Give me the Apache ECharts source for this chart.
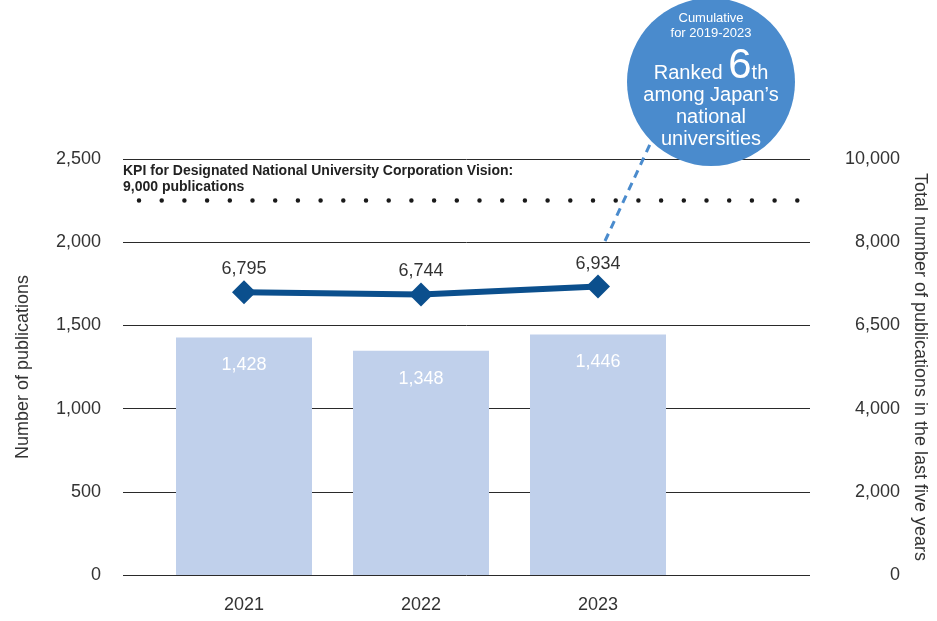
<!DOCTYPE html>
<html>
<head>
<meta charset="utf-8">
<script src="https://cdn.jsdelivr.net/npm/echarts@6/dist/echarts.min.js"></script>
<style>
html,body{margin:0;padding:0;background:#fff;}
#c{width:937px;height:621px;}
</style>
</head>
<body>
<div id="c"></div>
<script>
const categories = ['2021', '2022', '2023'];
const publications = [1428, 1348, 1446];
const cumulative = [6795, 6744, 6934];
const kpiTarget = 9000;
const leftTicks = ['0', '500', '1,000', '1,500', '2,000', '2,500'];
const rightTicks = ['0', '2,000', '4,000', '6,500', '8,000', '10,000'];

const FONT = '"Liberation Sans", Arial, sans-serif';
const TXT = '#333333';
const fmt = v => v.toLocaleString('en-US');

const chart = echarts.init(document.getElementById('c'), null, {renderer: 'canvas'});

const option = {
  animation: false,
  textStyle: {fontFamily: FONT},
  grid: [
    {left: 123, right: 127, top: 159, bottom: 46, containLabel: false, outerBoundsMode: 'none'},
    {left: 155.5, right: 250.5, top: 159, bottom: 46, containLabel: false, outerBoundsMode: 'none'}
  ],
  xAxis: [
    {gridIndex: 0, type: 'value', min: 0, max: 1, show: false},
    {
      gridIndex: 1, type: 'category', data: categories,
      axisLine: {show: false}, axisTick: {show: false},
      axisLabel: {color: TXT, fontSize: 18, margin: 21, fontFamily: FONT}
    }
  ],
  yAxis: [
    {
      gridIndex: 0, type: 'value', min: 0, max: 2500, interval: 500, position: 'left',
      name: 'Number of publications', nameLocation: 'middle', nameGap: 91, nameRotate: 90,
      nameTextStyle: {color: TXT, fontSize: 18, fontFamily: FONT},
      axisLine: {show: false}, axisTick: {show: false},
      axisLabel: {color: TXT, fontSize: 18, margin: 22, fontFamily: FONT,
        formatter: (v) => leftTicks[Math.round(v / 500)]},
      splitLine: {show: true, lineStyle: {color: '#2a2a2a', width: 1}}
    },
    {
      gridIndex: 0, type: 'value', min: 0, max: 10000, interval: 2000, position: 'right',
      name: 'Total number of publications in the last five years', nameLocation: 'middle',
      nameGap: 101, nameRotate: -90,
      nameTextStyle: {color: TXT, fontSize: 18, fontFamily: FONT},
      axisLine: {show: false}, axisTick: {show: false},
      axisLabel: {color: TXT, fontSize: 18, margin: 90, align: 'right', fontFamily: FONT,
        formatter: (v) => rightTicks[Math.round(v / 2000)]},
      splitLine: {show: false}
    },
    {gridIndex: 1, type: 'value', min: 0, max: 2500, show: false, splitLine: {show: false}},
    {gridIndex: 1, type: 'value', min: 0, max: 10000, show: false, splitLine: {show: false}}
  ],
  series: [
    {
      type: 'line', xAxisIndex: 0, yAxisIndex: 1, data: [], silent: true,
      markLine: {
        silent: true, symbol: ['none', 'none'], label: {show: false},
        lineStyle: {color: '#1a1a1a', width: 4.5, type: [0, 22.7], cap: 'round', dashOffset: -16},
        data: [{yAxis: kpiTarget}]
      }
    },
    {
      type: 'bar', xAxisIndex: 1, yAxisIndex: 2, data: publications, barWidth: 136,
      itemStyle: {color: '#c0d0eb'},
      label: {show: true, position: 'insideTop', distance: 19, color: '#ffffff', fontSize: 18,
        fontFamily: FONT, formatter: p => fmt(p.value)}
    },
    {
      type: 'line', xAxisIndex: 1, yAxisIndex: 3, data: cumulative,
      symbol: 'diamond', symbolSize: 24,
      lineStyle: {color: '#0b4f8d', width: 6},
      itemStyle: {color: '#0b4f8d'},
      label: {show: true, position: 'top', distance: 2, color: TXT, fontSize: 18,
        fontFamily: FONT, formatter: p => fmt(p.value)},
      z: 5
    }
  ],
  graphic: [
    {
      type: 'text', left: 123, top: 163, silent: true,
      style: {text: 'KPI for Designated National University Corporation Vision:\n9,000 publications',
        fill: '#222', font: 'bold 14px ' + FONT, lineHeight: 16}
    },
    {
      type: 'line', silent: true, z: 1,
      shape: {x1: 605, y1: 241, x2: 652, y2: 140},
      style: {stroke: '#4a8bcd', lineWidth: 3, lineDash: [8, 6]}
    },
    {
      type: 'circle', silent: true, z: 2,
      shape: {cx: 711, cy: 82, r: 84},
      style: {fill: '#4a8bcd'}
    },
    {type: 'text', silent: true, z: 3, x: 711, y: 18,
      style: {text: 'Cumulative', fill: '#fff', font: '13px ' + FONT, textAlign: 'center', textVerticalAlign: 'middle'}},
    {type: 'text', silent: true, z: 3, x: 711, y: 33,
      style: {text: 'for 2019-2023', fill: '#fff', font: '13px ' + FONT, textAlign: 'center', textVerticalAlign: 'middle'}},
    {type: 'text', silent: true, z: 3, x: 711, y: 66,
      style: {text: '{a|Ranked }{b|6}{a|th}', fill: '#fff', align: 'center', verticalAlign: 'middle',
        rich: {a: {fontSize: 20, fontFamily: FONT, fill: '#fff', color: '#fff', verticalAlign: 'bottom', padding: [0, 0, 4, 0]},
               b: {fontSize: 42, fontFamily: FONT, fill: '#fff', color: '#fff', verticalAlign: 'bottom'}}}},
    {type: 'text', silent: true, z: 3, x: 711, y: 95,
      style: {text: 'among Japan\u2019s', fill: '#fff', font: '20px ' + FONT, textAlign: 'center', textVerticalAlign: 'middle'}},
    {type: 'text', silent: true, z: 3, x: 711, y: 117,
      style: {text: 'national', fill: '#fff', font: '20px ' + FONT, textAlign: 'center', textVerticalAlign: 'middle'}},
    {type: 'text', silent: true, z: 3, x: 711, y: 139,
      style: {text: 'universities', fill: '#fff', font: '20px ' + FONT, textAlign: 'center', textVerticalAlign: 'middle'}}
  ]
};
chart.setOption(option);
</script>
</body>
</html>
